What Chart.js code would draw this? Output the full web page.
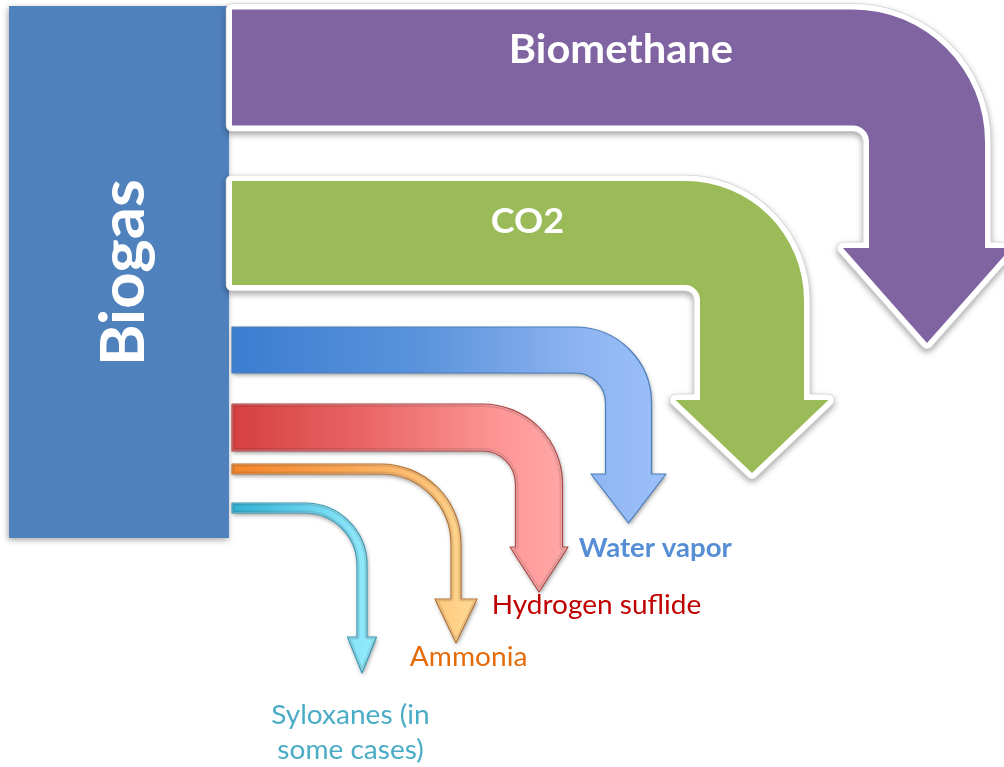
<!DOCTYPE html>
<html>
<head>
<meta charset="utf-8">
<title>Biogas upgrading flows</title>
<script src="https://cdn.jsdelivr.net/npm/chart.js@4.4.1/dist/chart.umd.min.js"></script>
<style>
    html, body { margin: 0; padding: 0; background: #fff; }
    #wrap { width: 1004px; height: 767px; }
</style>
</head>
<body>
<div id="wrap"><canvas id="flowChart"></canvas></div>
<script>
// what comes out of the biogas column, top to bottom
const sourceName = 'Biogas';
const flowNames = ['Biomethane', 'CO2', 'Water vapor', 'Hydrogen suflide', 'Ammonia', 'Syloxanes (in\nsome cases)'];
// band thickness of each flow as drawn (schematic shares)
const flowValues = [116, 104, 46, 47, 10, 10];

// ---- layout of the diagram (axis units, 1 unit = 1 px) ----
const sourceBox = { x0: 9, x1: 229, y0: 6, y1: 538 };
const bandStartX = 232;
const firstBandTop = 9.5;
const bandGaps = [0, 55.5, 42, 31, 13, 29];
const shaftCenter = [927, 752, 628.5, 539, 456, 362];
const innerRadius = [16, 15, 30, 33, 70, 52];
const headWidth = [168, 153, 75, 58, 42, 29];
const headLength = [95, 73, 49, 45, 44, 36];
const tipY = [343, 473, 523, 592, 643, 673];

// label placement: centre x, baseline y, ink width and cap height of the first line
const labelPos = [
    { cx: 622, base: 62.5, width: 220, cap: 27.5 },
    { cx: 527.5, base: 233, width: 71, cap: 21.5 },
    { cx: 655.5, base: 557, width: 153, cap: 14.5 },
    { cx: 597, base: 613.5, width: 206, cap: 18.3 },
    { cx: 468, base: 666, width: 116, cap: 18 },
    { cx: 350, base: 724, width: 156, cap: 18.5, lineGap: 35 }
];
const sourceLabel = { baseX: 143.5, startY: 362, width: 180, cap: 45 };
const maxSqueeze = 1.06, minSqueeze = 0.94;

// ---- styles ----
const sourceColor = '#4f81bd';
const flowStyles = [
    { kind: 'solid', fill: '#8064a2', text: '#ffffff', weight: 'bold' },
    { kind: 'solid', fill: '#9bbb59', text: '#ffffff', weight: 'bold' },
    { kind: 'grad', stops: ['#3b7dd0', '#5b93dc', '#8fb5f2', '#99bef8'], line: '#4a7ebb', bevel: false, text: '#558ed5', weight: 'bold' },
    { kind: 'grad', stops: ['#d63f3f', '#ec6b6b', '#ff9a9a', '#ffa6a6'], line: '#b04545', bevel: true, text: '#c00000', weight: 'normal' },
    { kind: 'grad', stops: ['#f5862a', '#f9a24f', '#fec277', '#ffd48c'], line: '#b9732f', bevel: true, text: '#e46c0a', weight: 'normal' },
    { kind: 'grad', stops: ['#33b1d2', '#5cccea', '#85e3f8', '#90e9fb'], line: '#3a9ab6', bevel: true, text: '#4bacc6', weight: 'normal' }
];
const fontFamily = 'Lato, "Open Sans", sans-serif';

function arrowPath(ctx, g) {
    const w = g.bottom - g.top;
    const xl = g.cx - w / 2, xr = g.cx + w / 2;
    const ro = g.ri + w;
    const headTop = g.tip - g.hl;
    ctx.beginPath();
    ctx.moveTo(g.x0, g.top);
    ctx.lineTo(xr - ro, g.top);
    ctx.arcTo(xr, g.top, xr, g.top + ro, ro);
    ctx.lineTo(xr, headTop);
    ctx.lineTo(g.cx + g.hw / 2, headTop);
    ctx.lineTo(g.cx, g.tip);
    ctx.lineTo(g.cx - g.hw / 2, headTop);
    ctx.lineTo(xl, headTop);
    ctx.lineTo(xl, g.bottom + g.ri);
    ctx.arcTo(xl, g.bottom, xl - g.ri, g.bottom, g.ri);
    ctx.lineTo(g.x0, g.bottom);
    ctx.closePath();
}

// font size from the cap height, then a small horizontal squeeze to hit the ink width
function fitText(ctx, text, weight, cap, width) {
    ctx.font = weight + ' 100px ' + fontFamily;
    const capH = ctx.measureText('H').actualBoundingBoxAscent;
    const m = ctx.measureText(text);
    const inkPer100 = m.actualBoundingBoxLeft + m.actualBoundingBoxRight;
    let size = 100 * cap / capH;
    let squeeze = width / (inkPer100 * size / 100);
    if (squeeze > maxSqueeze || squeeze < minSqueeze) {
        const s = squeeze > maxSqueeze ? maxSqueeze : minSqueeze;
        size = size * squeeze / s;
        squeeze = s;
    }
    return { size: size, squeeze: squeeze };
}

function drawLabel(ctx, text, weight, fit, color, cx, base) {
    ctx.save();
    ctx.font = weight + ' ' + fit.size + 'px ' + fontFamily;
    const m = ctx.measureText(text);
    const ink = m.actualBoundingBoxLeft + m.actualBoundingBoxRight;
    ctx.translate(cx, base);
    ctx.scale(fit.squeeze, 1);
    ctx.fillStyle = color;
    ctx.textAlign = 'left';
    ctx.textBaseline = 'alphabetic';
    ctx.fillText(text, -ink / 2 + m.actualBoundingBoxLeft, 0);
    ctx.restore();
}

const flowPlugin = {
    id: 'flowPlugin',
    afterDraw(chart) {
        const ctx = chart.ctx;
        const sx = v => chart.scales.x.getPixelForValue(v);
        const sy = v => chart.scales.y.getPixelForValue(v);
        const len = v => sx(v) - sx(0);

        // source column
        ctx.save();
        ctx.shadowColor = 'rgba(0,0,0,0.35)';
        ctx.shadowBlur = 6;
        ctx.shadowOffsetX = -1;
        ctx.shadowOffsetY = 2;
        ctx.fillStyle = sourceColor;
        ctx.fillRect(sx(sourceBox.x0), sy(sourceBox.y0), len(sourceBox.x1 - sourceBox.x0), len(sourceBox.y1 - sourceBox.y0));
        ctx.restore();

        // stacked bands along the column
        let top = firstBandTop;
        const geo = flowValues.map((v, i) => {
            top += bandGaps[i];
            const g = {
                x0: sx(bandStartX), top: sy(top), bottom: sy(top + v),
                cx: sx(shaftCenter[i]), ri: len(innerRadius[i]),
                hw: len(headWidth[i]), hl: len(headLength[i]), tip: sy(tipY[i])
            };
            top += v;
            return g;
        });

        geo.forEach((g, i) => {
            const st = flowStyles[i];
            ctx.save();
            ctx.lineJoin = 'round';
            if (st.kind === 'solid') {
                ctx.save();
                ctx.shadowColor = 'rgba(0,0,0,0.35)';
                ctx.shadowBlur = 6;
                ctx.shadowOffsetY = 3;
                arrowPath(ctx, g);
                ctx.lineWidth = 12.5;
                ctx.strokeStyle = '#d4d4d4';
                ctx.stroke();
                ctx.restore();
                arrowPath(ctx, g);
                ctx.lineWidth = 11;
                ctx.strokeStyle = '#ffffff';
                ctx.stroke();
                ctx.fillStyle = st.fill;
                ctx.fill();
            } else {
                const w = g.bottom - g.top;
                const grad = ctx.createLinearGradient(g.x0, 0, g.cx + w / 2, 0);
                grad.addColorStop(0, st.stops[0]);
                grad.addColorStop(0.45, st.stops[1]);
                grad.addColorStop(0.85, st.stops[2]);
                grad.addColorStop(1, st.stops[3]);
                ctx.save();
                ctx.shadowColor = 'rgba(0,0,0,0.4)';
                ctx.shadowBlur = 4;
                ctx.shadowOffsetX = 1;
                ctx.shadowOffsetY = 2;
                arrowPath(ctx, g);
                ctx.fillStyle = grad;
                ctx.fill();
                ctx.restore();
                if (st.bevel) {
                    ctx.save();
                    arrowPath(ctx, g);
                    ctx.clip();
                    ctx.lineWidth = Math.min(6, w * 0.5);
                    ctx.strokeStyle = 'rgba(0,0,0,0.10)';
                    ctx.stroke();
                    ctx.lineWidth = Math.min(2.5, w * 0.2);
                    ctx.strokeStyle = 'rgba(255,255,255,0.35)';
                    ctx.stroke();
                    ctx.restore();
                }
                arrowPath(ctx, g);
                ctx.lineWidth = 1.2;
                ctx.strokeStyle = st.line;
                ctx.stroke();
            }
            ctx.restore();
        });

        // labels
        flowNames.forEach((name, i) => {
            const st = flowStyles[i];
            const lp = labelPos[i];
            const lines = name.split('\n');
            const fit = fitText(ctx, lines[0], st.weight, len(lp.cap), len(lp.width));
            lines.forEach((line, k) => {
                drawLabel(ctx, line, st.weight, fit, st.text, sx(lp.cx), sy(lp.base + k * (lp.lineGap || 0)));
            });
        });

        // rotated source label
        ctx.save();
        const fit = fitText(ctx, sourceName, 'bold', len(sourceLabel.cap), len(sourceLabel.width));
        ctx.font = 'bold ' + fit.size + 'px ' + fontFamily;
        const m = ctx.measureText(sourceName);
        ctx.translate(sx(sourceLabel.baseX), sy(sourceLabel.startY));
        ctx.rotate(-Math.PI / 2);
        ctx.scale(fit.squeeze, 1);
        ctx.fillStyle = '#ffffff';
        ctx.textAlign = 'left';
        ctx.textBaseline = 'alphabetic';
        ctx.fillText(sourceName, m.actualBoundingBoxLeft, 0);
        ctx.restore();
    }
};

const chart = new Chart(document.getElementById('flowChart'), {
    type: 'scatter',
    data: { datasets: [{ data: [] }] },
    options: {
        responsive: true,
        maintainAspectRatio: false,
        animation: false,
        layout: { padding: 0 },
        plugins: {
            legend: { display: false },
            tooltip: { enabled: false }
        },
        scales: {
            x: { type: 'linear', min: 0, max: 1004, display: false },
            y: { type: 'linear', min: 0, max: 767, reverse: true, display: false }
        }
    },
    plugins: [flowPlugin]
});
</script>
</body>
</html>
